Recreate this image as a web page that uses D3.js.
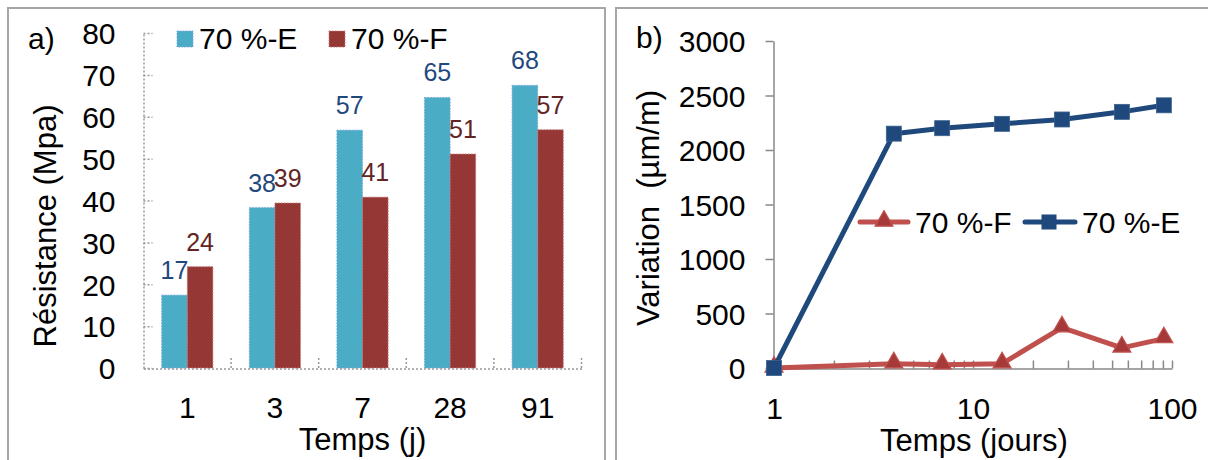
<!DOCTYPE html>
<html><head><meta charset="utf-8">
<script src="https://cdn.jsdelivr.net/npm/d3@7"></script>
<style>
body{margin:0;background:#fff}
text{font-family:"Liberation Sans",Arial,sans-serif;fill:#000}
</style>
</head><body>
<svg id="c" width="1208" height="460"></svg>
<script>
// ---- Data: panel a) ----
const categories = ["1", "3", "7", "28", "91"];
const seriesE = [17.4, 38.3, 56.8, 64.6, 67.5];
const seriesF = [24.2, 39.4, 40.8, 51.1, 56.9];
const barTicks = [0, 10, 20, 30, 40, 50, 60, 70, 80];
const barSeriesNames = ["70 %-E", "70 %-F"];

// ---- Data: panel b) ----
const days = [1, 4, 7, 14, 28, 56, 91];
const strainF = [0, 40, 30, 40, 370, 185, 270];
const strainE = [0, 2150, 2200, 2240, 2280, 2350, 2410];
const strainTicks = [0, 500, 1000, 1500, 2000, 2500, 3000];
const dayTicks = [1, 10, 100];
const lineSeriesNames = ["70 %-F", "70 %-E"];

const svg = d3.select("#c");
const C = {eFill:"#4BACC6", eStroke:"#7AA7DD", fFill:"#953735", fStroke:"#C47D7B",
           eLab:"#1F497D", fLab:"#632523", blue:"#1F497D", red:"#C0504D", redDark:"#A63A38",
           axis:"#888", dot:"#999", frame:"#A6A6A6"};

// frames
svg.append("rect").attr("x",8).attr("y",8).attr("width",597).attr("height",470)
  .attr("fill","none").attr("stroke",C.frame).attr("stroke-width",2);
svg.append("rect").attr("x",616).attr("y",8).attr("width",620).attr("height",470)
  .attr("fill","none").attr("stroke",C.frame).attr("stroke-width",2);

// ===== Panel a =====
const yL = d3.scaleLinear().domain([0, 80]).range([368, 33]);
const xL = d3.scaleBand().domain(categories).range([143.5, 581.5]);
const bw = xL.bandwidth();
const inner = d3.scaleBand().domain(["E","F"]).range([18.2, bw - 18.2]);

const gA = svg.append("g");
// y axis
const yAxL = gA.append("g").attr("transform","translate(143.5,0)")
  .call(d3.axisLeft(yL).tickValues(barTicks).tickSize(-9).tickSizeOuter(0).tickPadding(28));
yAxL.select(".domain").attr("stroke",C.dot).attr("stroke-width",1.5).attr("stroke-dasharray","2,2");
yAxL.selectAll(".tick line").attr("stroke",C.dot).attr("stroke-width",1.5).attr("stroke-dasharray","2,2");
yAxL.selectAll(".tick text").style("font-size","30px").attr("dy","0.36em");

// bars
const barData = [];
categories.forEach((c,i)=>{
  barData.push({c, s:"E", v:seriesE[i]});
  barData.push({c, s:"F", v:seriesF[i]});
});
gA.selectAll("rect.bar").data(barData).enter().append("rect")
  .attr("class","bar")
  .attr("x", d => xL(d.c) + inner(d.s))
  .attr("y", d => yL(d.v))
  .attr("width", inner.bandwidth())
  .attr("height", d => yL(0) - yL(d.v))
  .attr("fill", d => d.s === "E" ? C.eFill : C.fFill)
  .attr("stroke", d => d.s === "E" ? C.eStroke : C.fStroke)
  .attr("stroke-width",1).attr("stroke-dasharray","1.5,1.5");

gA.selectAll("text.lab").data(barData).enter().append("text")
  .attr("class","lab")
  .attr("x", d => xL(d.c) + inner(d.s) + inner.bandwidth()/2)
  .attr("y", d => yL(d.v) - 16)
  .attr("text-anchor","middle")
  .style("font-size","25px")
  .style("fill", d => d.s === "E" ? C.eLab : C.fLab)
  .text(d => d3.format(".0f")(d.v));

// x axis
const xAxL = gA.append("g").attr("transform","translate(0,368.5)")
  .call(d3.axisBottom(xL).tickSize(0).tickPadding(28));
xAxL.select(".domain").attr("stroke",C.dot).attr("stroke-width",1.5).attr("stroke-dasharray","2,2");
xAxL.selectAll(".tick text").style("font-size","30px");
gA.selectAll("line.sep").data(categories).enter().append("line")
  .attr("x1", d => xL(d) + bw).attr("x2", d => xL(d) + bw)
  .attr("y1", 368).attr("y2", 358)
  .attr("stroke",C.dot).attr("stroke-width",1.5).attr("stroke-dasharray","2,2");

gA.append("text").attr("x",(143.5+581.5)/2).attr("y",450).attr("text-anchor","middle")
  .style("font-size","31px").text("Temps (j)");
gA.append("text").attr("transform","translate(56,226) rotate(-90)").attr("text-anchor","middle")
  .style("font-size","31px").text("Résistance (Mpa)");
gA.append("text").attr("x",28).attr("y",49).style("font-size","30px").text("a)");

// legend a
const legA = [{x:177, name:barSeriesNames[0], fill:C.eFill, stroke:C.eStroke},
              {x:329, name:barSeriesNames[1], fill:C.fFill, stroke:C.fStroke}];
legA.forEach(l=>{
  gA.append("rect").attr("x",l.x).attr("y",31).attr("width",16).attr("height",16)
    .attr("fill",l.fill).attr("stroke",l.stroke).attr("stroke-dasharray","1.5,1.5");
  gA.append("text").attr("x",l.x+22).attr("y",49).style("font-size","30px").text(l.name);
});

// ===== Panel b =====
const xR = d3.scaleLog().domain([1, 100]).range([774, 1172]);
const yR = d3.scaleLinear().domain([0, 3000]).range([368, 41]);
const gB = svg.append("g");

const yAxR = gB.append("g").attr("transform","translate(773.5,0)")
  .call(d3.axisLeft(yR).tickValues(strainTicks).tickFormat(d3.format("d"))
    .tickSize(8).tickSizeOuter(0).tickPadding(20));
yAxR.select(".domain").attr("stroke",C.axis).attr("stroke-width",1.5);
yAxR.selectAll(".tick line").attr("stroke",C.axis).attr("stroke-width",1.5);
yAxR.selectAll(".tick text").style("font-size","30px").attr("dy","0.36em");

const xAxR = gB.append("g").attr("transform","translate(0,368.5)")
  .call(d3.axisBottom(xR).tickValues(xR.ticks()).tickSize(-8).tickSizeOuter(0).tickPadding(29)
    .tickFormat(d => dayTicks.includes(d) ? String(d) : ""));
xAxR.select(".domain").attr("stroke",C.axis).attr("stroke-width",1.5);
xAxR.selectAll(".tick line").attr("stroke",C.axis).attr("stroke-width",1.5);
xAxR.selectAll(".tick text").style("font-size","30px");

const line = d3.line().x(d => xR(d[0])).y(d => yR(d[1]));
const ptsF = days.map((d,i)=>[d, strainF[i]]);
const ptsE = days.map((d,i)=>[d, strainE[i]]);

gB.append("path").datum(ptsF).attr("d",line).attr("fill","none")
  .attr("stroke",C.red).attr("stroke-width",5).attr("stroke-linejoin","round").attr("stroke-linecap","round");
const tri = d3.symbol().type(d3.symbolTriangle).size(140);
gB.selectAll("path.tri").data(ptsF).enter().append("path").attr("class","tri")
  .attr("d",tri).attr("transform",d=>`translate(${xR(d[0])},${yR(d[1])-1})`)
  .attr("fill",C.redDark).attr("stroke",C.red).attr("stroke-width",1.2);

gB.append("path").datum(ptsE).attr("d",line).attr("fill","none")
  .attr("stroke",C.blue).attr("stroke-width",5).attr("stroke-linejoin","round").attr("stroke-linecap","round");
gB.selectAll("rect.sq").data(ptsE).enter().append("rect").attr("class","sq")
  .attr("x",d=>xR(d[0])-7.5).attr("y",d=>yR(d[1])-7.5).attr("width",15).attr("height",15)
  .attr("fill",C.blue).attr("stroke","#3A6090").attr("stroke-width",0.8);

// legend b
const legY = 222;
gB.append("line").attr("x1",860).attr("x2",908).attr("y1",legY).attr("y2",legY)
  .attr("stroke",C.red).attr("stroke-width",5).attr("stroke-linecap","round");
gB.append("path").attr("d",tri).attr("transform",`translate(884,${legY-1})`)
  .attr("fill",C.redDark).attr("stroke",C.red).attr("stroke-width",1.2);
gB.append("text").attr("x",915).attr("y",legY+11).style("font-size","30px").text(lineSeriesNames[0]);
gB.append("line").attr("x1",1025).attr("x2",1075).attr("y1",legY).attr("y2",legY)
  .attr("stroke",C.blue).attr("stroke-width",5).attr("stroke-linecap","round");
gB.append("rect").attr("x",1049-7.5).attr("y",legY-7.5).attr("width",15).attr("height",15)
  .attr("fill",C.blue);
gB.append("text").attr("x",1082).attr("y",legY+11).style("font-size","30px").text(lineSeriesNames[1]);

gB.append("text").attr("x",974).attr("y",451).attr("text-anchor","middle")
  .style("font-size","31px").text("Temps (jours)");
gB.append("text").attr("transform","translate(659,208) rotate(-90)").attr("text-anchor","middle")
  .style("font-size","31px").style("white-space","pre").text("Variation  (µm/m)");
gB.append("text").attr("x",636).attr("y",48).style("font-size","30px").text("b)");
</script>
</body></html>
